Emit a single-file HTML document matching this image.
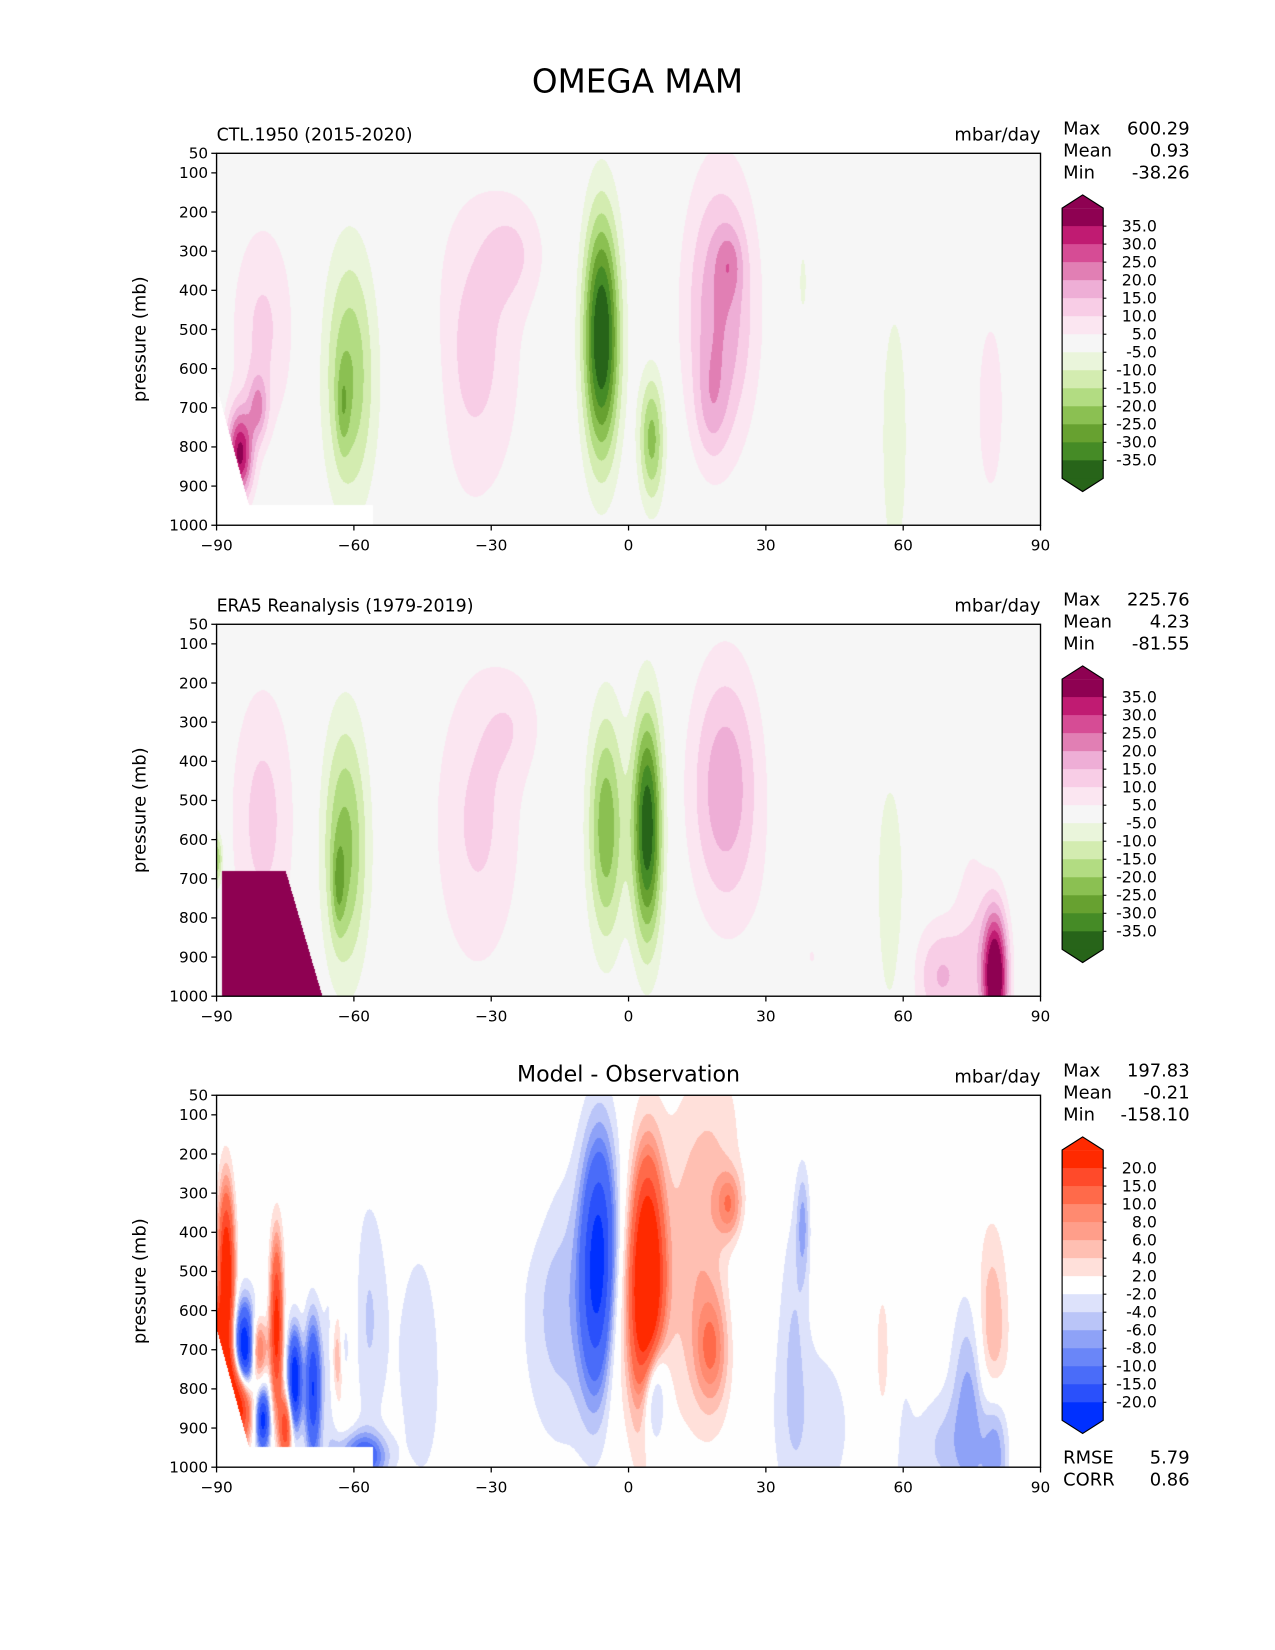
<!DOCTYPE html>
<html><head><meta charset="utf-8">
<style>
body{margin:0;background:#fff;}
#wrap{position:relative;width:1275px;height:1650px;overflow:hidden;background:#fff;}
svg{position:absolute;left:0;top:0;}
canvas{position:absolute;}
text{font-family:"DejaVu Sans","Liberation Sans",sans-serif;fill:#000;}
</style></head>
<body>
<div id="wrap">
<canvas id="c0"></canvas>
<canvas id="c1"></canvas>
<canvas id="c2"></canvas>
<svg id="svg" width="1275" height="1650" viewBox="0 0 1210 1566"></svg>
</div>
<script>
// ---- data ----
const piygLevels=[-35,-30,-25,-20,-15,-10,-5,5,10,15,20,25,30,35];
const piygColors=["#276419","#458b26","#67a130","#8bc052","#b2dc82","#d3ecb0","#eaf5db","#f6f6f6","#fbe6f1","#f8cde6","#eeaed6","#e17fb4","#d64c95","#c01b72","#8e0152"];
const diffLevels=[-20,-15,-10,-8,-6,-4,-2,2,4,6,8,10,15,20];
const diffColors=["#0030ff","#2a50fb","#4a6cf9","#6a86f8","#8ea2f7","#bac5f8","#dde2fb","#ffffff","#ffe0da","#ffbfb2","#ff9e8a","#ff8a70","#ff6a4a","#ff4a2a","#ff2a00"];
const latTicks=[-90,-60,-30,0,30,60,90];
const pTicks=[50,100,200,300,400,500,600,700,800,900,1000];

// CTL blobs
const ctlLat=[-6,5,20,18,22,-34,-25,-61,-62.5,-80,-85,-81,58,38,79,-45];
const ctlP  =[520,780,450,700,330,560,300,620,700,500,820,700,780,380,700,700];
const ctlSx =[2.8,2,5.5,2.5,2,7.5,5,4,1,5,2,1.5,2.5,1,2.5,4];
const ctlSp =[220,120,250,100,60,280,100,230,80,200,80,60,300,100,200,250];
const ctlAmp=[-42,-22,20,8,8,12,8,-20,-8,11,35,15,-8,-6,8,-5];
// ERA5 blobs
const eraLat=[4,-5,21,-33,-25,-62,80,68,40,57,-90,-80,-63.5,75];
const eraP  =[570,570,470,560,300,620,950,950,900,750,650,550,720,850];
const eraSx =[2.3,2.8,5.5,7,5,3.5,2,4,8,2.5,1,5,1,3];
const eraSp =[210,210,230,280,100,230,120,100,200,250,50,250,80,200];
const eraAmp=[-40,-24,19,11,6,-22,45,15,5,-9,-20,12,-10,8];
// ERA5 surface block (lat range and top pressure)
const blockLat=[-89,-67];
const blockTopP=[680,660];
const blockVal=[60];
// Extra diff features
const dxLat=[-88,-84,-77,-73,-69,-80,-75,-65,-57,-60,-88,80,68,40,-15,12,36];
const dxP  =[520,720,650,780,800,880,900,700,980,960,850,950,950,900,600,500,650];
const dxSx =[1.2,1.5,1,1,1.2,1,1,1.5,3,4,1,2,4,8,6,8,2];
const dxSp =[150,80,150,80,120,50,60,200,40,40,100,120,100,200,250,300,250];
const dxAmp=[30,-35,25,-25,-20,-20,20,-6,-8,-6,25,36,11,2,-5,3,-3];

const stats=[["600.29","0.93","-38.26"],["225.76","4.23","-81.55"],["197.83","-0.21","-158.10"]];
const titles=["CTL.1950 (2015-2020)","ERA5 Reanalysis (1979-2019)",""];

// ---- geometry ----
const S=1275/1210;
const L=205.5,R=987.5,H=353;
const tops=[145.5,592.5,1039.5];
const xOf=lat=>L+(lat+90)/180*(R-L);
const yOf=(p,t)=>t+(p-50)/950*H;

function field(lats,ps,sxs,sps,amps,lat,p){
  let v=0;
  for(let i=0;i<lats.length;i++){
    const a=(lat-lats[i])/sxs[i], b=(p-ps[i])/sps[i];
    const e=a*a+b*b; if(e<30) v+=amps[i]*Math.exp(-e/2);
  }
  return v;
}
function masked(lat,p){
  if(p>950 && lat<-56) return true;
  const edge=-90+(p-650)/(950-650)*7;
  return p>650 && lat<edge;
}
function inBlock(lat,p){
  const f=(p-680)/(1000-680);
  const right=-75+f*(blockLat[1]+75);
  return lat>=blockLat[0] && lat<=right && p>=blockTopP[0];
}
function lev(v,levels){let k=0;while(k<levels.length&&v>levels[k])k++;return k;}
function hex(c){return [parseInt(c.substr(1,2),16),parseInt(c.substr(3,2),16),parseInt(c.substr(5,2),16)];}
const piygRGB=piygColors.map(hex), diffRGB=diffColors.map(hex);

function drawField(idx){
  const cv=document.getElementById('c'+idx);
  const w=Math.round((R-L)*S), h=Math.round(H*S);
  cv.width=w;cv.height=h;
  cv.style.left=(L*S)+'px';cv.style.top=(tops[idx]*S)+'px';
  const ctx=cv.getContext('2d');const img=ctx.createImageData(w,h);
  for(let y=0;y<h;y++){
    const p=50+(y+0.5)/h*950;
    for(let x=0;x<w;x++){
      const lat=-90+(x+0.5)/w*180;
      let col;
      const f1=field(ctlLat,ctlP,ctlSx,ctlSp,ctlAmp,lat,p);
      const f2=field(eraLat,eraP,eraSx,eraSp,eraAmp,lat,p);
      if(idx===0){
        col=masked(lat,p)?[255,255,255]:piygRGB[lev(f1,piygLevels)];
      }else if(idx===1){
        const v=inBlock(lat,p)?blockVal[0]:f2;
        col=piygRGB[lev(v,piygLevels)];
      }else{
        if(masked(lat,p)) col=[255,255,255];
        else{
          const d=f1-f2+field(dxLat,dxP,dxSx,dxSp,dxAmp,lat,p);
          const k=lev(d,diffLevels);
          col=k===7?[254,254,254]:diffRGB[k];
        }
      }
      const o=(y*w+x)*4;img.data[o]=col[0];img.data[o+1]=col[1];img.data[o+2]=col[2];img.data[o+3]=255;
    }
  }
  ctx.putImageData(img,0,0);
}
[0,1,2].forEach(drawField);

// ---- SVG ----
const NS="http://www.w3.org/2000/svg";const svg=document.getElementById('svg');
function el(tag,attrs,parent,txt){const e=document.createElementNS(NS,tag);for(const k in attrs)e.setAttribute(k,attrs[k]);if(txt!==undefined)e.textContent=txt;(parent||svg).appendChild(e);return e;}

const t=el('text',{x:605,y:88,'font-size':31,'text-anchor':'middle'},svg,"OMEGA MAM");



tops.forEach((top,i)=>{
  const g=el('g',{});
  
  
  const fr=el('rect',{x:L,y:top,width:R-L,height:H,fill:'none',stroke:'#000','stroke-width':1.3},g);
  
  
  pTicks.forEach(p=>{
    const y=yOf(p,top);
    el('line',{x1:L-5,x2:L,y1:y,y2:y,stroke:'#000','stroke-width':1.2},g);
    const tl=el('text',{x:L-8,y:y+5,'font-size':14.5,'text-anchor':'end'},g,String(p));
    
    
  });
  latTicks.forEach(lat=>{
    const x=xOf(lat);
    el('line',{x1:x,x2:x,y1:top+H,y2:top+H+5,stroke:'#000','stroke-width':1.2},g);
    const tl=el('text',{x:x,y:top+H+24,'font-size':14.5,'text-anchor':'middle'},g,String(lat).replace('-','\u2212'));
    
    
  });
  const yl=el('text',{x:0,y:0,'font-size':17,'text-anchor':'middle',transform:`translate(138,${top+H/2}) rotate(-90)`},g,"pressure (mb)");
  
  
  if(titles[i]){
    const st=el('text',{x:L,y:top-12,'font-size':16.5},g,titles[i]);
    
    
  }else{
    const st=el('text',{x:(L+R)/2,y:top-13,'font-size':21,'text-anchor':'middle'},g,"Model - Observation");
    
    
  }
  const un=el('text',{x:R,y:top-12,'font-size':17,'text-anchor':'end'},g,"mbar/day");
  
  
  ["Max","Mean","Min"].forEach((lab,k)=>{
    const y=top-18+k*21;
    el('text',{x:1009,y:y,'font-size':17},g,lab);
    const v=el('text',{x:1129,y:y,'font-size':17,'text-anchor':'end'},g,stats[i][k]);
    
    
  });
  const cb=el('g',{},g);
  
  
  const cols=(i<2?piygColors:diffColors).slice().reverse();
  const levs=(i<2?piygLevels:diffLevels).slice().reverse();
  const bx=1008,bw=39,btop=top+52,rh=17.1,n=cols.length;
  const tri=12.5;
  el('polygon',{points:`${bx},${btop} ${bx+bw/2},${btop-tri} ${bx+bw},${btop}`,fill:cols[0]},cb);
  cols.forEach((c,k)=>{el('rect',{x:bx,y:btop+k*rh,width:bw,height:rh+0.5,fill:c},cb);});
  const bb=btop+n*rh;
  el('polygon',{points:`${bx},${bb} ${bx+bw/2},${bb+tri} ${bx+bw},${bb}`,fill:cols[n-1]},cb);
  el('polygon',{points:`${bx},${btop} ${bx+bw/2},${btop-tri} ${bx+bw},${btop} ${bx+bw},${bb} ${bx+bw/2},${bb+tri} ${bx},${bb}`,fill:'none',stroke:'#000','stroke-width':1.1},cb);
  levs.forEach((lv,k)=>{
    const y=btop+(k+1)*rh;
    el('line',{x1:bx+bw,x2:bx+bw+3,y1:y,y2:y,stroke:'#000','stroke-width':1},cb);
    el('text',{x:1098,y:y+5,'font-size':15,'text-anchor':'end'},cb,lv.toFixed(1));
  });
});
[["RMSE","5.79"],["CORR","0.86"]].forEach((r,k)=>{
  const y=1389+k*21;
  el('text',{x:1009,y:y,'font-size':17},svg,r[0]);
  const v=el('text',{x:1129,y:y,'font-size':17,'text-anchor':'end'},svg,r[1]);
  
  
});
</script>
</body></html>
